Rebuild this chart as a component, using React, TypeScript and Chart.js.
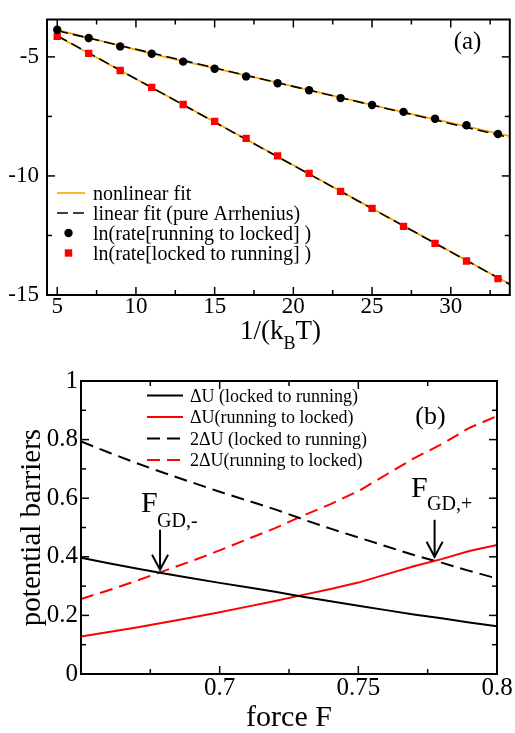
import React, { useEffect, useRef } from "react";
import { Chart, registerables } from "chart.js";

Chart.register(...registerables);

const SERIF = '"Liberation Serif", "Times New Roman", Times, serif';

// ---------------- panel (a) data ----------------
const invKBT = [5, 7, 9, 11, 13, 15, 17, 19, 21, 23, 25, 27, 29, 31, 33];
const lnRateRunningToLocked = [-3.86, -4.21, -4.56, -4.87, -5.2, -5.5, -5.82, -6.11, -6.4, -6.73, -7.02, -7.31, -7.6, -7.87, -8.24];
const lnRateLockedToRunning = [-4.14, -4.85, -5.57, -6.28, -7.0, -7.71, -8.42, -9.16, -9.89, -10.65, -11.36, -12.12, -12.83, -13.57, -14.31];
const nonlinFitX = [5, 12, 19, 26, 33.75];
const nonlinFitRunningToLocked = [-3.87, -5.03, -6.08, -7.17, -8.33];
const nonlinFitLockedToRunning = [-4.13, -6.64, -9.18, -11.73, -14.55];
const linFitX = [5, 33.75];
const linFitRunningToLocked = [-3.9, -8.39];
const linFitLockedToRunning = [-4.11, -14.55];
const aXTicks = [5, 10, 15, 20, 25, 30];
const aXTickLabels = ["5", "10", "15", "20", "25", "30"];
const aXMinor = [7.5, 12.5, 17.5, 22.5, 27.5, 32.5];
const aYTicks = [-5, -10, -15];
const aYTickLabels = ["-5", "-10", "-15"];
const aYMinor = [-7.5, -12.5];
const aXRange = [4.35, 33.75];
const aYRange = [-15, -3.43];
const aLegendLabels = [
  "nonlinear fit",
  "linear fit (pure Arrhenius)",
  "ln(rate[running to locked] )",
  "ln(rate[locked to running] )",
];

// ---------------- panel (b) data ----------------
const forceF = [0.65, 0.66, 0.67, 0.68, 0.69, 0.7, 0.71, 0.72, 0.73, 0.74, 0.75, 0.76, 0.77, 0.78, 0.79, 0.8];
const dULockedToRunning = [0.397, 0.378, 0.36, 0.343, 0.327, 0.311, 0.296, 0.281, 0.264, 0.248, 0.233, 0.218, 0.203, 0.19, 0.176, 0.163];
const dURunningToLocked = [0.128, 0.143, 0.159, 0.176, 0.193, 0.211, 0.23, 0.249, 0.27, 0.29, 0.312, 0.34, 0.368, 0.392, 0.42, 0.44];
const twoDULockedToRunning = [0.794, 0.756, 0.72, 0.686, 0.654, 0.622, 0.592, 0.562, 0.528, 0.496, 0.466, 0.436, 0.406, 0.38, 0.352, 0.326];
const twoDURunningToLocked = [0.256, 0.286, 0.318, 0.352, 0.386, 0.422, 0.46, 0.498, 0.54, 0.58, 0.624, 0.68, 0.736, 0.784, 0.84, 0.88];
const bXTicks = [0.7, 0.75, 0.8];
const bXTickLabels = ["0.7", "0.75", "0.8"];
const bXMinor = [0.675, 0.725, 0.775];
const bYTicks = [0, 0.2, 0.4, 0.6, 0.8, 1];
const bYTickLabels = ["0", "0.2", "0.4", "0.6", "0.8", "1"];
const bYMinor = [0.1, 0.3, 0.5, 0.7, 0.9];
const bXRange = [0.65, 0.8];
const bYRange = [0, 1];
const bLegendLabels = [
  "\u0394U (locked to running)",
  "\u0394U(running to locked)",
  "2\u0394U (locked to running)",
  "2\u0394U(running to locked)",
];
const gdMinusTip = { F: 0.6785, value: 0.356 };
const gdPlusTip = { F: 0.7775, value: 0.4 };

const pts = (xs: number[], ys: number[]) => xs.map((x, i) => ({ x, y: ys[i] }));

function seg(ctx: CanvasRenderingContext2D, x1: number, y1: number, x2: number, y2: number) {
  ctx.beginPath();
  ctx.moveTo(x1, y1);
  ctx.lineTo(x2, y2);
  ctx.stroke();
}

function drawFrame(chart: any, xMaj: number[], xMin: number[], yMaj: number[], yMin: number[]) {
  const { ctx, chartArea: a, scales } = chart;
  ctx.save();
  ctx.strokeStyle = "#000";
  ctx.lineWidth = 1.5;
  const tx = (vals: number[], len: number) => {
    vals.forEach((v) => {
      const p = scales.x.getPixelForValue(v);
      seg(ctx, p, a.bottom, p, a.bottom - len);
      seg(ctx, p, a.top, p, a.top + len);
    });
  };
  const ty = (vals: number[], len: number) => {
    vals.forEach((v) => {
      const p = scales.y.getPixelForValue(v);
      seg(ctx, a.left, p, a.left + len, p);
      seg(ctx, a.right, p, a.right - len, p);
    });
  };
  tx(xMaj, 8);
  tx(xMin, 5);
  ty(yMaj, 8);
  ty(yMin, 5);
  ctx.lineWidth = 2;
  ctx.strokeRect(a.left, a.top, a.right - a.left, a.bottom - a.top);
  ctx.restore();
}

function makeAxis(range: number[], ticks: number[], labels: string[], size: number, padding: number, fit: (s: any) => void) {
  return {
    type: "linear" as const,
    min: range[0],
    max: range[1],
    grid: { display: false, drawTicks: false },
    border: { display: false },
    ticks: {
      color: "#000",
      font: { family: SERIF, size, lineHeight: 1 },
      padding,
      autoSkip: false,
      maxRotation: 0,
      callback: (v: any) => {
        const i = ticks.indexOf(Number(v));
        return i >= 0 ? labels[i] : "";
      },
    },
    afterBuildTicks: (s: any) => {
      s.ticks = ticks.map((v) => ({ value: v }));
    },
    afterFit: fit,
  };
}

const panelAPlugin = {
  id: "panelA",
  afterDraw(chart: any) {
    const { ctx } = chart;
    drawFrame(chart, aXTicks, aXMinor, aYTicks, aYMinor);
    ctx.save();
    // legend
    const rows = [193, 213, 233, 253];
    ctx.lineWidth = 1.6;
    ctx.strokeStyle = "#FFA500";
    seg(ctx, 57, rows[0], 85, rows[0]);
    ctx.strokeStyle = "#000";
    ctx.setLineDash([11, 5]);
    seg(ctx, 57, rows[1], 85, rows[1]);
    ctx.setLineDash([]);
    ctx.fillStyle = "#000";
    ctx.beginPath();
    ctx.arc(68.5, rows[2], 4.2, 0, Math.PI * 2);
    ctx.fill();
    ctx.fillStyle = "#FF0000";
    ctx.fillRect(68.5 - 3.7, rows[3] - 3.7, 7.4, 7.4);
    ctx.fillStyle = "#000";
    ctx.font = `20px ${SERIF}`;
    ctx.textAlign = "left";
    ctx.textBaseline = "alphabetic";
    aLegendLabels.forEach((t, i) => ctx.fillText(t, 93, rows[i] + 7));
    // panel tag
    ctx.font = `25px ${SERIF}`;
    ctx.textAlign = "center";
    ctx.fillText("(a)", 467.5, 49);
    // x title 1/(k_B T)
    ctx.textAlign = "left";
    ctx.font = `27px ${SERIF}`;
    let x = 240;
    ctx.fillText("1/(k", x, 338.5);
    x += ctx.measureText("1/(k").width;
    ctx.font = `18px ${SERIF}`;
    ctx.fillText("B", x, 348.5);
    x += ctx.measureText("B").width;
    ctx.font = `27px ${SERIF}`;
    ctx.fillText("T)", x, 338.5);
    ctx.restore();
  },
};

function drawArrow(ctx: CanvasRenderingContext2D, x: number, yTip: number, len: number) {
  ctx.save();
  ctx.strokeStyle = "#000";
  ctx.lineWidth = 2;
  seg(ctx, x, yTip - len, x, yTip);
  ctx.beginPath();
  ctx.moveTo(x - 8, yTip - 15);
  ctx.lineTo(x, yTip);
  ctx.lineTo(x + 8, yTip - 15);
  ctx.stroke();
  ctx.restore();
}

const panelBPlugin = {
  id: "panelB",
  afterDraw(chart: any) {
    const { ctx, chartArea: a, scales } = chart;
    drawFrame(chart, bXTicks, bXMinor, bYTicks, bYMinor);
    ctx.save();
    // legend
    const rows = [45.5, 67, 88.5, 110];
    const styles = [
      { c: "#000", d: [] as number[] },
      { c: "#FF0000", d: [] as number[] },
      { c: "#000", d: [13, 7] },
      { c: "#FF0000", d: [13, 7] },
    ];
    ctx.lineWidth = 2;
    styles.forEach((s, i) => {
      ctx.strokeStyle = s.c;
      ctx.setLineDash(s.d);
      seg(ctx, 147, rows[i], 183, rows[i]);
    });
    ctx.setLineDash([]);
    ctx.fillStyle = "#000";
    ctx.font = `18px ${SERIF}`;
    ctx.textAlign = "left";
    ctx.textBaseline = "alphabetic";
    bLegendLabels.forEach((t, i) => ctx.fillText(t, 190, rows[i] + 6.3));
    // panel tag
    ctx.font = `26px ${SERIF}`;
    ctx.textAlign = "center";
    ctx.fillText("(b)", 430.5, 74);
    // axis titles
    ctx.font = `30px ${SERIF}`;
    ctx.fillText("force F", (a.left + a.right) / 2, 376);
    ctx.save();
    ctx.translate(40, (a.top + a.bottom) / 2);
    ctx.rotate(-Math.PI / 2);
    ctx.font = `29px ${SERIF}`;
    ctx.fillText("potential barriers", 0, 0);
    ctx.restore();
    // annotations
    const m = { x: scales.x.getPixelForValue(gdMinusTip.F), y: scales.y.getPixelForValue(gdMinusTip.value) };
    const p = { x: scales.x.getPixelForValue(gdPlusTip.F), y: scales.y.getPixelForValue(gdPlusTip.value) };
    drawArrow(ctx, m.x, m.y, 40);
    drawArrow(ctx, p.x, p.y, 37);
    ctx.textAlign = "left";
    ctx.font = `30px ${SERIF}`;
    ctx.fillText("F", 141, 161.7);
    ctx.fillText("F", 411, 147.3);
    ctx.font = `20px ${SERIF}`;
    ctx.fillText("GD,-", 157, 176.7);
    ctx.fillText("GD,+", 427, 160);
    ctx.restore();
  },
};

export default function App() {
  const topRef = useRef<HTMLCanvasElement>(null);
  const botRef = useRef<HTMLCanvasElement>(null);

  useEffect(() => {
    const chartA = new Chart(topRef.current as HTMLCanvasElement, {
      type: "scatter",
      data: {
        datasets: [
          {
            label: "ln(rate[running to locked] )",
            data: pts(invKBT, lnRateRunningToLocked),
            showLine: false,
            pointStyle: "circle",
            pointRadius: 4.2,
            backgroundColor: "#000",
            borderColor: "#000",
            borderWidth: 0,
            order: 0,
          },
          {
            label: "ln(rate[locked to running] )",
            data: pts(invKBT, lnRateLockedToRunning),
            showLine: false,
            pointStyle: "rect",
            pointRadius: 5.2,
            backgroundColor: "#FF0000",
            borderColor: "#FF0000",
            borderWidth: 0,
            order: 0,
          },
          {
            label: "linear fit (pure Arrhenius)",
            data: pts(linFitX, linFitRunningToLocked),
            showLine: true,
            pointRadius: 0,
            borderColor: "#000",
            borderWidth: 1.6,
            borderDash: [11, 5],
            order: 1,
          },
          {
            label: "linear fit (pure Arrhenius) 2",
            data: pts(linFitX, linFitLockedToRunning),
            showLine: true,
            pointRadius: 0,
            borderColor: "#000",
            borderWidth: 1.6,
            borderDash: [11, 5],
            order: 1,
          },
          {
            label: "nonlinear fit",
            data: pts(nonlinFitX, nonlinFitRunningToLocked),
            showLine: true,
            pointRadius: 0,
            borderColor: "#FFA500",
            borderWidth: 1.8,
            order: 2,
          },
          {
            label: "nonlinear fit 2",
            data: pts(nonlinFitX, nonlinFitLockedToRunning),
            showLine: true,
            pointRadius: 0,
            borderColor: "#FFA500",
            borderWidth: 1.8,
            order: 2,
          },
        ],
      },
      options: {
        responsive: false,
        maintainAspectRatio: false,
        animation: false,
        events: [],
        layout: { padding: { top: 3, right: 1, left: 0, bottom: 0 } },
        plugins: { legend: { display: false }, tooltip: { enabled: false } },
        scales: {
          x: makeAxis(aXRange, aXTicks, aXTickLabels, 23, 0, (s: any) => {
            s.height = 55;
          }),
          y: makeAxis(aYRange, aYTicks, aYTickLabels, 23, 8, (s: any) => {
            s.width = 47;
          }),
        },
      } as any,
      plugins: [panelAPlugin],
    });

    const lineDs = (label: string, ys: number[], color: string, dash: number[]) => ({
      label,
      data: pts(forceF, ys),
      showLine: true,
      pointRadius: 0,
      borderColor: color,
      borderWidth: 2,
      borderDash: dash,
      tension: 0,
    });

    const chartB = new Chart(botRef.current as HTMLCanvasElement, {
      type: "scatter",
      data: {
        datasets: [
          lineDs(bLegendLabels[0], dULockedToRunning, "#000", []),
          lineDs(bLegendLabels[1], dURunningToLocked, "#FF0000", []),
          lineDs(bLegendLabels[2], twoDULockedToRunning, "#000", [13, 7]),
          lineDs(bLegendLabels[3], twoDURunningToLocked, "#FF0000", [13, 7]),
        ],
      },
      options: {
        responsive: false,
        maintainAspectRatio: false,
        animation: false,
        events: [],
        layout: { padding: { top: 31, right: 18, left: 0, bottom: 0 } },
        plugins: { legend: { display: false }, tooltip: { enabled: false } },
        scales: {
          x: makeAxis(bXRange, bXTicks, bXTickLabels, 25, 2, (s: any) => {
            s.height = 59;
          }),
          y: makeAxis(bYRange, bYTicks, bYTickLabels, 25, 3, (s: any) => {
            s.width = 81;
          }),
        },
      } as any,
      plugins: [panelBPlugin],
    });

    return () => {
      chartA.destroy();
      chartB.destroy();
    };
  }, []);

  return (
    <div style={{ position: "absolute", left: 0, top: 0, width: 515, height: 733, background: "#fff" }}>
      <canvas ref={topRef} width={515} height={350} style={{ position: "absolute", left: 0, top: 0, display: "block" }} />
      <canvas ref={botRef} width={515} height={383} style={{ position: "absolute", left: 0, top: 350, display: "block" }} />
    </div>
  );
}
